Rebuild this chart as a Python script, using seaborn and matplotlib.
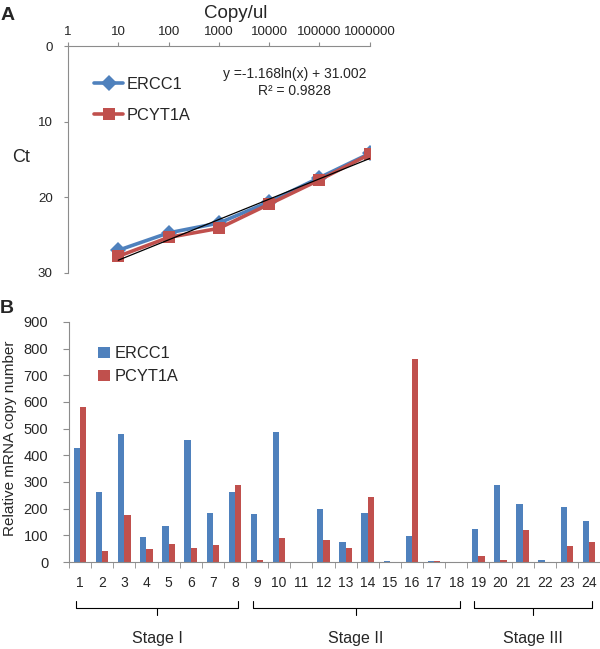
import numpy as np
import pandas as pd
import matplotlib.pyplot as plt
import seaborn as sns
from matplotlib.ticker import NullLocator, FixedLocator

# panel A: standard curve
copies = [10, 100, 1000, 10000, 100000, 1000000]
ct_ercc1 = [27.0, 24.7, 23.4, 20.6, 17.4, 14.2]
ct_pcyt1a = [27.8, 25.3, 24.1, 20.9, 17.7, 14.3]
fit_slope = -1.168
fit_intercept = 31.002
fit_r2 = 0.9828

# panel B: relative copy numbers per sample
samples = [str(i) for i in range(1, 25)]
ercc1 = [427, 263, 480, 95, 134, 459, 182, 263, 180, 488, 2, 197,
         76, 182, 5, 96, 5, 1, 124, 288, 218, 9, 207, 153]
pcyt1a = [582, 43, 178, 50, 69, 54, 63, 289, 6, 89, 0, 83,
          53, 242, 0, 760, 4, 0, 24, 6, 121, 0, 60, 75]
stage_names = ['Stage I', 'Stage II', 'Stage III']
stage_first = [1, 9, 19]
stage_last = [8, 18, 24]

blue = '#4F81BD'
red = '#C0504D'
grey = '#8c8c8c'

sns.set_style('white')
plt.rcParams['font.family'] = ['Liberation Sans', 'DejaVu Sans']

fig = plt.figure(figsize=(6, 6.49), dpi=100)
axA = fig.add_axes([0.1133, 0.5794, 0.503, 0.3497])
axB = fig.add_axes([0.115, 0.134, 0.885, 0.370])

# ---- A ----
dfA = pd.DataFrame({'copies': copies * 2,
                    'ct': ct_ercc1 + ct_pcyt1a,
                    'gene': ['ERCC1'] * len(copies) + ['PCYT1A'] * len(copies)})
axA.set_xscale('log')
sns.lineplot(data=dfA, x='copies', y='ct', hue='gene', style='gene',
             hue_order=['ERCC1', 'PCYT1A'], palette=[blue, red],
             markers={'ERCC1': 'D', 'PCYT1A': 's'}, dashes=False,
             linewidth=2.6, markersize=8.5, markeredgewidth=0, ax=axA)
fit_x = np.array([copies[0], copies[-1]])
axA.plot(fit_x, fit_slope * np.log(fit_x) + fit_intercept, color='black', lw=0.9)

axA.set_xlim(1, 1e6)
axA.set_ylim(30, 0)
axA.xaxis.set_major_locator(FixedLocator([1, 10, 100, 1000, 10000, 100000, 1000000]))
axA.xaxis.set_minor_locator(NullLocator())
axA.set_xticklabels(['1', '10', '100', '1000', '10000', '100000', '1000000'])
axA.set_yticks([0, 10, 20, 30])
axA.xaxis.tick_top()
axA.tick_params(axis='x', which='major', top=True, bottom=False, length=3,
                color=grey, labelsize=9.6, pad=3, direction='out')
axA.tick_params(axis='y', left=True, length=3, color=grey, labelsize=9.6, pad=8)
for s in ['right', 'bottom']:
    axA.spines[s].set_visible(False)
for s in ['left', 'top']:
    axA.spines[s].set_color(grey)
    axA.spines[s].set_linewidth(0.8)
axA.set_xlabel('')
axA.set_ylabel('')
axA.legend(frameon=False, loc='upper left', bbox_to_anchor=(86 / 600, 1 - 69 / 649),
           bbox_transform=fig.transFigure, borderpad=0, handlelength=1.75,
           handletextpad=0.2, labelspacing=0.95, fontsize=11.8)

fig.text(236 / 600, 1 - 13 / 649, 'Copy/ul', ha='center', va='center', fontsize=13.5)
fig.text(21 / 600, 1 - 157 / 649, 'Ct', ha='center', va='center', fontsize=13)
fig.text(295 / 600, 1 - 74 / 649, 'y =-1.168ln(x) + 31.002', ha='center', va='center', fontsize=10)
fig.text(294 / 600, 1 - 91 / 649, 'R² = %.4f' % fit_r2, ha='center', va='center', fontsize=10)
fig.text(8 / 600, 1 - 15 / 649, 'A', ha='center', va='center', fontsize=14, fontweight='bold')
fig.text(7 / 600, 1 - 308 / 649, 'B', ha='center', va='center', fontsize=14, fontweight='bold')

# ---- B ----
dfB = pd.DataFrame({'sample': samples * 2,
                    'copies': ercc1 + pcyt1a,
                    'gene': ['ERCC1'] * len(samples) + ['PCYT1A'] * len(samples)})
sns.barplot(data=dfB, x='sample', y='copies', hue='gene', order=samples,
            hue_order=['ERCC1', 'PCYT1A'], palette=[blue, red], width=0.57,
            saturation=1, linewidth=0, ax=axB)
axB.set_xlim(-0.5, len(samples) - 0.5)
axB.set_ylim(0, 900)
axB.set_yticks(range(0, 901, 100))
axB.xaxis.set_minor_locator(FixedLocator(np.arange(-0.5, len(samples), 1)))
axB.tick_params(axis='x', which='major', length=0, labelsize=10, pad=10)
axB.tick_params(axis='x', which='minor', bottom=True, length=4, color=grey)
axB.tick_params(axis='y', left=True, length=4, color=grey, labelsize=10.5, pad=11)
for s in ['right', 'top']:
    axB.spines[s].set_visible(False)
for s in ['left', 'bottom']:
    axB.spines[s].set_color(grey)
    axB.spines[s].set_linewidth(0.8)
axB.set_xlabel('')
axB.set_ylabel('')
axB.legend(frameon=False, loc='upper left', bbox_to_anchor=(90 / 600, 1 - 338 / 649),
           bbox_transform=fig.transFigure, borderpad=0, handlelength=0.7,
           handleheight=0.7, handletextpad=0.3, labelspacing=0.5, fontsize=11.8)
fig.text(10 / 600, 1 - 438 / 649, 'Relative mRNA copy number', rotation=90,
         ha='center', va='center', fontsize=11)

# stage brackets under the sample labels
tr = axB.get_xaxis_transform()
for name, first, last in zip(stage_names, stage_first, stage_last):
    x0 = first - 1 - 0.2
    x1 = last - 1 + 0.15
    xm = (x0 + x1) / 2
    axB.plot([x0, x0, x1, x1], [-0.1625, -0.192, -0.192, -0.1625], color='black',
             lw=0.8, transform=tr, clip_on=False)
    axB.plot([xm, xm], [-0.192, -0.221], color='black', lw=0.8, transform=tr, clip_on=False)
    axB.text(xm, -0.32, name, transform=tr, ha='center', va='center', fontsize=11.5)

fig.savefig('out.png', dpi=100)
